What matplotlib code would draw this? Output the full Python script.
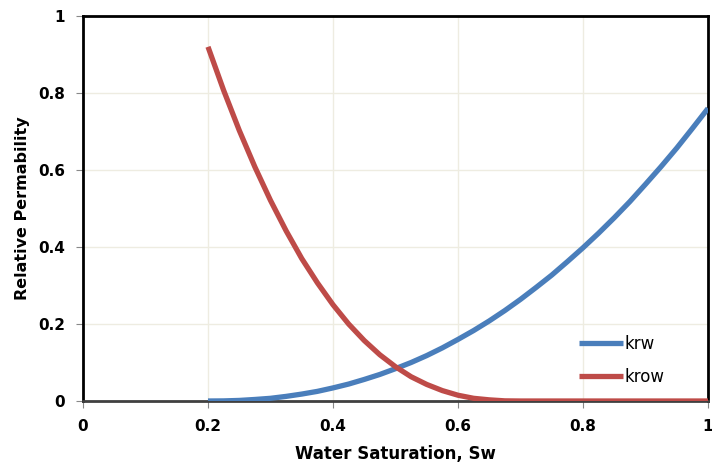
import matplotlib
matplotlib.use("Agg")
import matplotlib.pyplot as plt

# water saturation points
sw = [0.2, 0.225, 0.25, 0.275, 0.3, 0.325, 0.35, 0.375, 0.4, 0.425, 0.45, 0.475,
      0.5, 0.525, 0.55, 0.575, 0.6, 0.625, 0.65, 0.675, 0.7, 0.725, 0.75, 0.775,
      0.8, 0.825, 0.85, 0.875, 0.9, 0.925, 0.95, 0.975, 1.0]
krw = [0.0, 0.0003, 0.0015, 0.004, 0.007, 0.012, 0.018, 0.025, 0.034, 0.044, 0.056, 0.069,
       0.084, 0.100, 0.118, 0.138, 0.160, 0.183, 0.208, 0.235, 0.264, 0.295, 0.327, 0.362,
       0.398, 0.436, 0.476, 0.518, 0.563, 0.609, 0.657, 0.708, 0.76]
krow = [0.92, 0.807, 0.703, 0.608, 0.521, 0.442, 0.370, 0.307, 0.250, 0.200, 0.157, 0.120,
        0.089, 0.063, 0.043, 0.027, 0.015, 0.007, 0.003, 0.0004, 0.0, 0.0, 0.0, 0.0,
        0.0, 0.0, 0.0, 0.0, 0.0, 0.0, 0.0, 0.0, 0.0]

xticks = [0, 0.2, 0.4, 0.6, 0.8, 1]
yticks = [0, 0.2, 0.4, 0.6, 0.8, 1]
tick_labels = ["0", "0.2", "0.4", "0.6", "0.8", "1"]

fig = plt.figure(figsize=(7.12, 4.73), dpi=100)
ax = fig.add_axes([83/712, 1 - 401/473, 625/712, 385/473])

ax.plot(sw, krw, color="#4a7ebb", lw=3.8, label="krw", solid_capstyle="butt", zorder=3)
ax.plot(sw, krow, color="#be4b48", lw=3.8, label="krow", solid_capstyle="butt", zorder=3)

ax.set_xlim(0, 1)
ax.set_ylim(0, 1)
ax.set_xticks(xticks)
ax.set_yticks(yticks)
ax.set_xticklabels(tick_labels, fontweight="bold", fontsize=11)
ax.set_yticklabels(tick_labels, fontweight="bold", fontsize=11)
ax.tick_params(direction="out", length=5, color="#888888", pad=8)
ax.grid(True, color="#eeece1", lw=1, zorder=0)

for side in ["top", "right", "left"]:
    ax.spines[side].set_color("black")
    ax.spines[side].set_linewidth(2)
ax.spines["bottom"].set_color("#404040")
ax.spines["bottom"].set_linewidth(2)

ax.set_xlabel("Water Saturation, Sw", fontweight="bold", fontsize=12, labelpad=8)
ax.set_ylabel("Relative Permability", fontweight="bold", fontsize=11.5, labelpad=6)

ax.legend(loc="upper left", bbox_to_anchor=(0.77, 0.21), frameon=False,
          fontsize=12, handlelength=2.6, handletextpad=0.1, labelspacing=0.9)

fig.savefig("out.png", dpi=100)
